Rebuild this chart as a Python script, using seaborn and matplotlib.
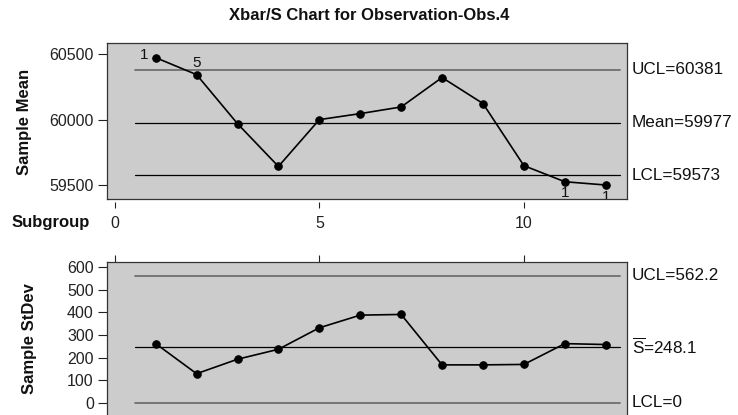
import matplotlib
matplotlib.use("Agg")
import matplotlib.pyplot as plt
import matplotlib.transforms as mtransforms
import seaborn as sns

# Subgroup statistics
subgroups = [1, 2, 3, 4, 5, 6, 7, 8, 9, 10, 11, 12]
sample_means = [60474, 60344, 59969, 59642, 60000, 60046, 60097, 60322, 60123, 59648, 59525, 59500]
sample_sdevs = [262, 129, 193, 237, 332, 388, 391, 168, 168, 170, 262, 258]

# Control limits
mean_ucl, mean_center, mean_lcl = 60381, 59977, 59573
sd_ucl, sd_center, sd_lcl = 562.2, 248.1, 0

mean_limit_labels = ["UCL=60381", "Mean=59977", "LCL=59573"]
sd_limit_labels = ["UCL=562.2", r"$\overline{\mathrm{S}}$=248.1", "LCL=0"]

# Test-failure flags: (subgroup index, label)
mean_flags = [(0, "1"), (1, "5"), (10, "1"), (11, "1")]

x_ticks = [0, 5, 10]
mean_ticks = [59500, 60000, 60500]
sd_ticks = [0, 100, 200, 300, 400, 500, 600]

sns.set_style("ticks", {"axes.facecolor": "#cccccc", "axes.edgecolor": "#333333"})
plt.rcParams["font.family"] = ["Liberation Sans", "DejaVu Sans"]
plt.rcParams["mathtext.fontset"] = "custom"
plt.rcParams["mathtext.rm"] = "Liberation Sans"

W, H = 738, 415
fig = plt.figure(figsize=(W / 100, H / 100), dpi=100)


def box(x0, y0, x1, y1):
    return [x0 / W, 1 - y1 / H, (x1 - x0) / W, (y1 - y0) / H]


ax1 = fig.add_axes(box(107, 43, 627, 199))
ax2 = fig.add_axes(box(107, 262, 627, 430))

line_kw = dict(color="black", marker="o", markersize=5.4, markeredgecolor="black",
               linewidth=1.2, legend=False)
sns.lineplot(x=subgroups, y=sample_means, ax=ax1, **line_kw)
sns.lineplot(x=subgroups, y=sample_sdevs, ax=ax2, **line_kw)

xlim = (-0.19, 12.52)
lim_x = (0.5, 12.35)

# Control lines
for ax, vals, cols, lws in [
    (ax1, [mean_ucl, mean_center, mean_lcl], ["#6e6e6e", "black", "black"], [1.3, 0.9, 0.9]),
    (ax2, [sd_ucl, sd_center, sd_lcl], ["#6e6e6e", "black", "#6e6e6e"], [1.3, 0.9, 1.3]),
]:
    for v, c, lw in zip(vals, cols, lws):
        ax.plot(lim_x, [v, v], color=c, linewidth=lw, zorder=1)

ax1.set_xlim(*xlim)
ax2.set_xlim(*xlim)
ax1.set_ylim(59393, 60586)
ax2.set_ylim(-120, 623)

ax1.set_yticks(mean_ticks)
ax2.set_yticks(sd_ticks)
for ax in (ax1, ax2):
    ax.tick_params(axis="y", direction="out", length=6.5, width=0.8, pad=3,
                   labelsize=11.5, colors="#222222")
    for s in ax.spines.values():
        s.set_visible(True)
        s.set_linewidth(0.9)
    ax.set_xlabel("")
    ax.set_ylabel("")

# Top chart: subgroup axis drawn just below the frame
ax1.tick_params(axis="x", bottom=False, labelbottom=False)
sec = ax1.secondary_xaxis(-3 / 156)
sec.set_xticks(x_ticks)
sec.spines["bottom"].set_visible(False)
sec.tick_params(axis="x", direction="out", length=4, width=0.8, pad=6,
                labelsize=11.5, colors="#222222")

# Bottom chart: ticks above the frame, no labels
ax2.set_xticks(x_ticks)
ax2.tick_params(axis="x", bottom=False, labelbottom=False, top=True, labeltop=False,
                direction="out", length=5, width=0.8, colors="#222222")

label_font = dict(fontsize=12, fontweight="bold", color="#111111")
fig.text(25 / W, 1 - 122 / H, "Sample Mean", rotation=90, ha="center", va="center", **label_font)
fig.text(29.5 / W, 1 - 339 / H, "Sample StDev", rotation=90, ha="center", va="center", **label_font)
fig.text(12 / W, 1 - 222 / H, "Subgroup", ha="left", va="center", **label_font)

# Limit labels on the right
for ax, vals, labels in [
    (ax1, [mean_ucl, mean_center, mean_lcl], mean_limit_labels),
    (ax2, [sd_ucl, sd_center, sd_lcl], sd_limit_labels),
]:
    tr = mtransforms.blended_transform_factory(ax.transAxes, ax.transData)
    for v, t in zip(vals, labels):
        ax.text(1.009, v, t, transform=tr, ha="left", va="center", fontsize=12.3,
                color="#111111", clip_on=False)

# Test-failure flags next to points
offsets = {0: (-12, 3), 1: (0, 12), 10: (0, -11), 11: (0, -12)}
for i, t in mean_flags:
    dx, dy = offsets[i]
    ax1.annotate(t, (subgroups[i], sample_means[i]), xytext=(dx * 0.72, dy * 0.72),
                 textcoords="offset points", ha="center", va="center", fontsize=11,
                 color="#111111", annotation_clip=False, clip_on=True)

fig.text(0.5, 1 - 15 / H, "Xbar/S Chart for Observation-Obs.4", ha="center", va="center",
         fontsize=12, fontweight="bold", color="#111111")

fig.savefig("out.png", dpi=100)
